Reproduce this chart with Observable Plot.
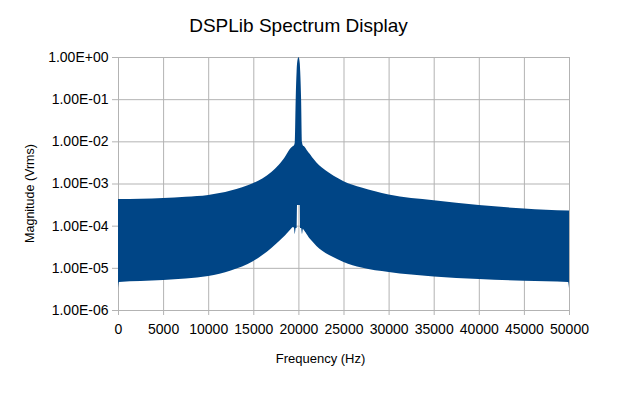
<!DOCTYPE html>
<html>
<head>
<meta charset="utf-8">
<script src="https://cdn.jsdelivr.net/npm/d3@7"></script>
<script src="https://cdn.jsdelivr.net/npm/@observablehq/plot@0.6"></script>
<style>
  html, body { margin: 0; padding: 0; background: #fff; }
</style>
</head>
<body>
<div id="chart"></div>
<script>
const titleText = "DSPLib Spectrum Display";
const xLabel = "Frequency (Hz)";
const yLabel = "Magnitude (Vrms)";

const xTicks = [0, 5000, 10000, 15000, 20000, 25000, 30000, 35000, 40000, 45000, 50000];
const yTicks = [1e-6, 1e-5, 1e-4, 1e-3, 1e-2, 1e-1, 1];
const yTickLabels = ["1.00E-06", "1.00E-05", "1.00E-04", "1.00E-03", "1.00E-02", "1.00E-01", "1.00E+00"];

// Envelope of the spectrum band
const freqs = [0, 100, 2500, 5000, 7500, 10000, 12500, 15000, 16000, 17000,
  17800, 18500, 18900, 19200, 19400, 19500, 19600, 19700, 19800, 19850,
  20000, 20150, 20200, 20300, 20400, 20500, 20600, 20800, 21000, 21200,
  21500, 22000, 22600, 23400, 24400, 25000, 27000, 30000, 35000, 40000,
  45000, 49900, 50000];
const upper = [4.29e-4, 4.29e-4, 4.36e-4, 4.53e-4, 4.84e-4, 5.34e-4, 6.82e-4, 1.03e-3, 1.31e-3, 1.87e-3,
  2.75e-3, 4.25e-3, 5.9e-3, 7.14e-3, 7.75e-3, 7.97e-3, 9.5e-3, 0.1, 0.45, 0.7,
  1.0, 0.7, 0.45, 0.1, 9.5e-3, 7.97e-3, 7.7e-3, 6.9e-3, 5.9e-3, 5.2e-3,
  4.25e-3, 3.15e-3, 2.4e-3, 1.8e-3, 1.33e-3, 1.13e-3, 8.0e-4, 5.5e-4, 4.0e-4, 3.09e-4,
  2.55e-4, 2.29e-4, 2.29e-4];
const lower = [3.15e-6, 4.62e-6, 4.87e-6, 5.15e-6, 5.59e-6, 6.4e-6, 8.66e-6, 1.45e-5, 2.02e-5, 2.96e-5,
  4.22e-5, 5.85e-5, 7.28e-5, 8.57e-5, 9.3e-5, 9.0e-5, 6.35e-5, 8.8e-5, 8.8e-5, 3.09e-4,
  3.09e-4, 3.09e-4, 8.8e-5, 8.8e-5, 6.35e-5, 8.5e-5, 7.9e-5, 6.9e-5, 5.9e-5, 5.1e-5,
  4.33e-5, 3.3e-5, 2.58e-5, 2.02e-5, 1.58e-5, 1.38e-5, 1.02e-5, 7.97e-6, 6.24e-6, 5.44e-6,
  4.96e-6, 4.62e-6, 3.33e-6];

const band = freqs.map((f, i) => ({f, hi: upper[i], lo: lower[i]}));

const grid = "#b3b3b3";
const blue = "#004586";

const chart = Plot.plot({
  width: 620,
  height: 394,
  marginLeft: 118,
  marginRight: 51,
  marginTop: 57,
  marginBottom: 84,
  style: {fontFamily: "'Liberation Sans', Arial, sans-serif", fontSize: "14px", color: "black", background: "white"},
  x: {domain: [0, 50000]},
  y: {type: "log", domain: [1e-6, 1]},
  marks: [
    Plot.gridX(xTicks, {stroke: grid, strokeOpacity: 1}),
    Plot.gridY(yTicks, {stroke: grid, strokeOpacity: 1}),
    Plot.axisX(xTicks, {tickSize: 5, tickPadding: 9, stroke: grid, strokeOpacity: 1, fill: "black", fontSize: 14, tickFormat: d => String(d), label: null}),
    Plot.axisY(yTicks, {tickSize: 6, tickPadding: 4, stroke: grid, strokeOpacity: 1, fill: "black", fontSize: 14, tickFormat: d => yTickLabels[yTicks.indexOf(d)], label: null}),
    Plot.areaY(band, {x: "f", y1: "lo", y2: "hi", fill: blue, curve: "monotone-x"}),
    Plot.text([titleText], {text: d => d, frameAnchor: "top-left", dx: 180, dy: -26, textAnchor: "middle", lineAnchor: "bottom", fontSize: 19, fill: "black"}),
    Plot.text([xLabel], {text: d => d, frameAnchor: "top-left", dx: 202, dy: 305, textAnchor: "middle", lineAnchor: "bottom", fontSize: 13, fill: "black"}),
    Plot.text([yLabel], {text: d => d, frameAnchor: "top-left", dx: -93, dy: 136, rotate: -90, textAnchor: "middle", fontSize: 12.5, fill: "black"})
  ]
});

document.getElementById("chart").appendChild(chart);
</script>
</body>
</html>
